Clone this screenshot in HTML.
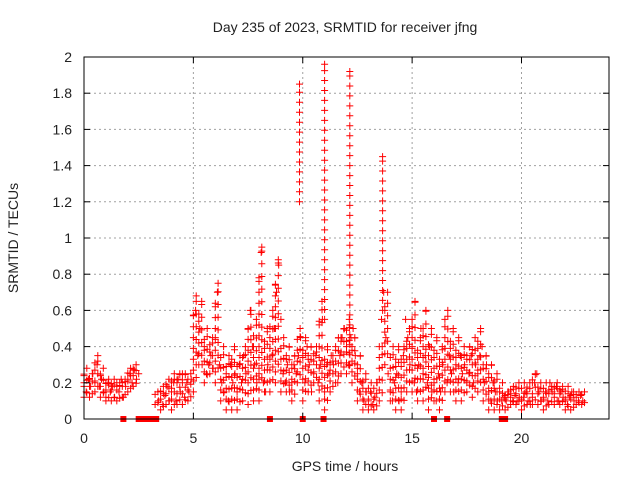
<!DOCTYPE html>
<html><head><meta charset="utf-8"><style>
body{margin:0;background:#fff}
svg{display:block;font-family:"Liberation Sans",sans-serif}
</style></head><body>
<svg id="chart" width="640" height="480">
<rect width="640" height="480" fill="#fff"/>
<text x="345" y="32" font-size="14" text-anchor="middle" fill="#222">Day 235 of 2023, SRMTID for receiver jfng</text>
<text x="345" y="471" font-size="14" text-anchor="middle" fill="#222">GPS time / hours</text>
<text transform="translate(18,238) rotate(-90)" font-size="14" text-anchor="middle" fill="#222">SRMTID / TECUs</text>
<g id="grid"></g><g id="marks"></g><g id="axes"></g>
</svg>
<script>
const xTicks=[0,5,10,15,20];
const yTicks=[0,0.2,0.4,0.6,0.8,1,1.2,1.4,1.6,1.8,2];
const yTickLabels=["0","0.2","0.4","0.6","0.8","1","1.2","1.4","1.6","1.8","2"];
const seriesStart=0, seriesStep=0.1;
const srmtid=[
0.2,0.15,0.22,0.18,0.25,0.2,0.3,0.18,0.22,0.15,
0.12,0.2,0.15,0.18,0.12,0.2,0.15,0.22,0.12,0.18,
0.22,0.25,0.2,0.27,0.22,0.25,null,null,null,null,
null,null,null,null,0.1,0.15,0.08,0.13,0.18,0.1,
0.15,0.2,0.1,0.22,0.15,0.25,0.12,0.2,0.15,0.22,
0.45,0.6,0.35,0.5,0.3,0.4,0.25,0.3,0.35,0.28,
0.45,0.7,0.3,0.2,0.15,0.25,0.1,0.3,0.2,0.25,
0.15,0.3,0.2,0.35,0.25,0.5,0.6,0.4,0.3,0.2,
0.25,0.92,0.2,0.15,0.3,0.45,0.35,0.5,0.7,0.85,
0.55,0.25,0.2,0.3,0.15,0.2,0.3,0.25,0.35,0.45,
0.35,0.2,0.4,0.3,0.15,0.25,0.35,0.2,0.3,0.55,
0.15,0.3,0.25,0.35,0.3,0.4,0.2,0.35,0.45,0.5,
0.4,0.3,0.45,0.5,0.35,0.25,0.15,0.2,0.1,0.15,
0.1,0.15,0.08,0.12,0.2,0.4,0.55,0.7,0.45,0.25,
0.15,0.1,0.2,0.25,0.1,0.15,0.35,0.55,0.45,0.3,
0.4,0.2,0.15,0.3,0.5,0.25,0.35,0.2,0.4,0.15,
0.2,0.1,0.25,0.15,0.3,0.55,0.2,0.35,0.25,0.15,
0.3,0.2,0.35,0.25,0.3,0.2,0.25,0.35,0.2,0.3,
0.25,0.35,0.4,0.2,0.3,0.15,0.1,0.2,0.15,0.1,
0.15,0.1,0.12,0.1,0.15,0.12,0.1,0.13,0.1,0.12,
0.1,0.12,0.15,0.1,0.08,0.12,0.2,0.25,0.15,0.1,
0.12,0.15,0.1,0.2,0.15,0.12,0.18,0.1,0.15,0.12,
0.1,0.08,0.12,0.15,0.1,0.12,0.1,0.13,0.1];
const envStart=0, envStep=0.25;
const envLow=[
.12,.12,.15,.12, .1,.1,.1,.12, .15,.18,null,null, null,.08,.05,.08,
.05,.08,.08,.1, .15,.3,.2,.25, .2,.1,.05,.05, .05,.1,.08,.1,
.1,.15,.15,.2, .15,.15,.1,.2, .1,.15,.2,.1, .05,.15,.2,.25,
.25,.2,.1,.05, .05,.05,.1,.3, .1,.05,.05,.15, .15,.1,.1,.05,
.1,.05,.15,.15, .1,.1,.15,.12, .15,.1,.05,.05, .05,.05,.08,.08,
.05,.08,.08,.08, .05,.08,.08,.08, .05,.05,.08,.08];
const envHigh=[
.28,.25,.35,.28, .22,.22,.2,.22, .28,.3,null,null, null,.15,.18,.22,
.25,.25,.25,.25, .68,.65,.5,.45, .75,.4,.35,.4, .35,.4,.6,.55,
.95,.5,.6,.88, .45,.4,.35,.5, .45,.4,.4,.65, .4,.35,.45,.5,
.55,.45,.35,.25, .2,.2,.4,.7, .4,.4,.4,.5, .65,.45,.6,.5,
.45,.4,.6,.5, .45,.4,.4,.45, .5,.35,.3,.25, .2,.15,.18,.2,
.2,.2,.25,.2, .2,.18,.2,.18, .18,.15,.15,.15];
const spikeTimes=[9.85,11.0,12.15,13.65];
const spikeLow=[1.2,0.55,0.3,0.6];
const spikeHigh=[1.85,1.96,1.92,1.45];
const gapTimes=[1.8,2.5,2.7,2.9,3.1,3.3,8.5,10.0,10.95,16.0,16.6,19.1,19.25];

const X0=84,X1=609,Y0=419,Y1=57;
const xs=t=>X0+(t/24)*(X1-X0);
const ys=v=>Y0-(v/2)*(Y0-Y1);
const NS="http://www.w3.org/2000/svg";
function mk(tag,attrs,parent){const e=document.createElementNS(NS,tag);for(const k in attrs)e.setAttribute(k,attrs[k]);parent.appendChild(e);return e;}
const grid=document.getElementById('grid'),marks=document.getElementById('marks'),axes=document.getElementById('axes');
xTicks.forEach(t=>{
  const x=xs(t);
  if(t>0){const l=mk('line',{x1:x,x2:x,y1:Y1,y2:Y0,stroke:'#a0a0a0','stroke-dasharray':'2,3'},grid);
  
  }
  mk('line',{x1:x,x2:x,y1:Y0,y2:Y0-6,stroke:'#000'},axes);
  mk('line',{x1:x,x2:x,y1:Y1,y2:Y1+6,stroke:'#000'},axes);
  const tx=mk('text',{x:x,y:Y0+24,'font-size':14,'text-anchor':'middle',fill:'#222'},axes);
  tx.textContent=t;
  
  
});
yTicks.forEach((v,i)=>{
  const y=ys(v);
  if(v>0&&v<2){const l=mk('line',{x1:X0,x2:X1,y1:y,y2:y,stroke:'#a0a0a0','stroke-dasharray':'2,3'},grid);
  
  }
  mk('line',{x1:X0,x2:X0+6,y1:y,y2:y,stroke:'#000'},axes);
  mk('line',{x1:X1,x2:X1-6,y1:y,y2:y,stroke:'#000'},axes);
  const tx=mk('text',{x:X0-12,y:y+5,'font-size':14,'text-anchor':'end',fill:'#222'},axes);
  tx.textContent=yTickLabels[i];
  
  
});
const frame=mk('rect',{x:X0,y:Y1,width:X1-X0,height:Y0-Y1,fill:'none',stroke:'#000'},axes);


let d='';
function plus(t,v){
  const x=xs(t),y=ys(v);
  d+=`M${(x-3.5).toFixed(1)},${y.toFixed(1)}h7M${x.toFixed(1)},${(y-3.5).toFixed(1)}v7`;
}
function stack(t,lo,hi,step){
  for(let v=lo;v<=hi+1e-9;v+=step)plus(t,v);
  plus(t,hi);
}
envLow.forEach((lo,i)=>{
  const hi=envHigh[i];
  if(lo===null||hi===null)return;
  const t=envStart+i*envStep;
  const span=hi-lo;
  stack(t,lo,hi-span*0.2,0.06);
  stack(t+0.13,lo+span*0.15,hi,0.07);
});
srmtid.forEach((v,i)=>{if(v!==null)plus(seriesStart+i*seriesStep,v);});
spikeTimes.forEach((t,i)=>{stack(t,spikeLow[i],spikeHigh[i],0.055);});
const pts=mk('path',{d:d,stroke:'#f00','stroke-width':1,fill:'none'},marks);


gapTimes.forEach(t=>{
  const r=mk('rect',{x:xs(t)-3,y:Y0-3,width:6,height:6,fill:'#f00'},marks);
  
  
});
</script>
</body></html>
